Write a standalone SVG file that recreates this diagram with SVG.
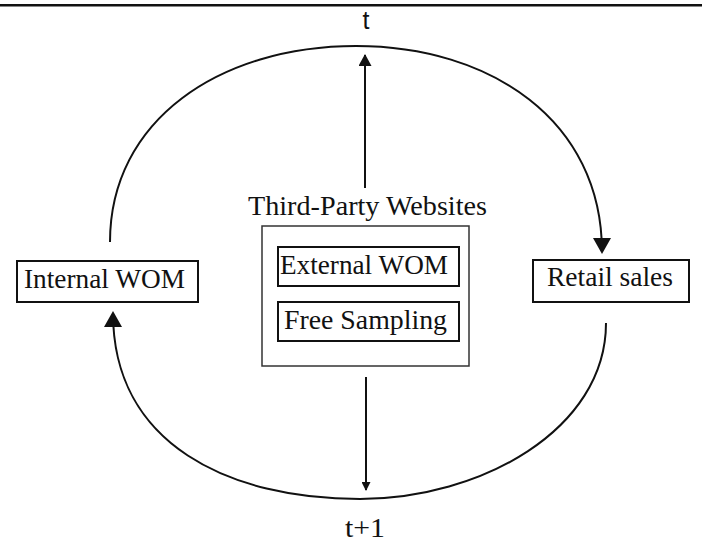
<svg xmlns="http://www.w3.org/2000/svg" width="702" height="544" viewBox="0 0 702 544">
  <style>
    .lbl { font-family: "Liberation Serif", "Times New Roman", serif; font-size: 27px; fill: #111; }
    .box { fill: #fff; stroke: #111; stroke-width: 2; }
    .outer { fill: none; stroke: #333; stroke-width: 1.5; }
    .conn { fill: none; stroke: #111; stroke-width: 2; }
  </style>
  <defs>
    <marker id="headBig" markerUnits="userSpaceOnUse" viewBox="0 0 16 18" markerWidth="16" markerHeight="18" refX="14" refY="9" orient="auto">
      <path d="M0,0 L16,9 L0,18 z" fill="#111"/>
    </marker>
    <marker id="headMid" markerUnits="userSpaceOnUse" viewBox="0 0 12 13" markerWidth="12" markerHeight="13" refX="11" refY="6.5" orient="auto">
      <path d="M0,0 L12,6.5 L0,13 z" fill="#111"/>
    </marker>
    <marker id="headSmall" markerUnits="userSpaceOnUse" viewBox="0 0 9 9" markerWidth="9" markerHeight="9" refX="8" refY="4.5" orient="auto">
      <path d="M0,0 L9,4.5 L0,9 z" fill="#111"/>
    </marker>
  </defs>

  <rect width="702" height="544" fill="#fff"/>

  <!-- rule across the top -->
  <line x1="0" y1="5.2" x2="702" y2="5.2" stroke="#111" stroke-width="2.6"/>

  <!-- time labels -->
  <text x="366" y="29" text-anchor="middle" style="font-family:'Liberation Sans', Arial, sans-serif; font-size:25px; fill:#111">t</text>
  <text x="365" y="537" text-anchor="middle" class="lbl" textLength="40" lengthAdjust="spacingAndGlyphs">t+1</text>

  <g id="connectors">
    <!-- upper loop: Internal WOM to Retail sales -->
    <path class="conn" d="M110,242 C110,120 220,46 356,46 C490,46 602,120 602,252" marker-end="url(#headBig)"/>
    <!-- lower loop: Retail sales back to Internal WOM -->
    <path class="conn" d="M606,323 C606,430 480,499 360,499 C230,499 113,445 113,313" marker-end="url(#headBig)"/>
    <!-- third-party websites up to t -->
    <path class="conn" d="M365,188 L365,55" marker-end="url(#headMid)"/>
    <!-- third-party websites down to t+1 -->
    <path class="conn" d="M366,377 L366,490" stroke-width="1.6" marker-end="url(#headSmall)"/>
  </g>

  <g id="internal-wom">
    <rect class="box" x="17" y="261" width="181" height="41"/>
    <text class="lbl" x="24" y="288" textLength="161" lengthAdjust="spacingAndGlyphs">Internal WOM</text>
  </g>

  <g id="retail-sales">
    <rect class="box" x="533" y="260" width="156" height="42"/>
    <text class="lbl" x="547" y="286" textLength="126" lengthAdjust="spacingAndGlyphs">Retail sales</text>
  </g>

  <g id="third-party-websites">
    <text class="lbl" x="248" y="215" textLength="239" lengthAdjust="spacingAndGlyphs">Third-Party Websites</text>
    <rect class="outer" x="262" y="226" width="207" height="140"/>
  </g>

  <g id="external-wom">
    <rect class="box" x="278" y="247" width="181" height="39"/>
    <text class="lbl" x="280" y="274" textLength="168" lengthAdjust="spacingAndGlyphs">External WOM</text>
  </g>

  <g id="free-sampling">
    <rect class="box" x="278" y="302" width="181" height="39"/>
    <text class="lbl" x="284" y="329" textLength="163" lengthAdjust="spacingAndGlyphs">Free Sampling</text>
  </g>
</svg>
